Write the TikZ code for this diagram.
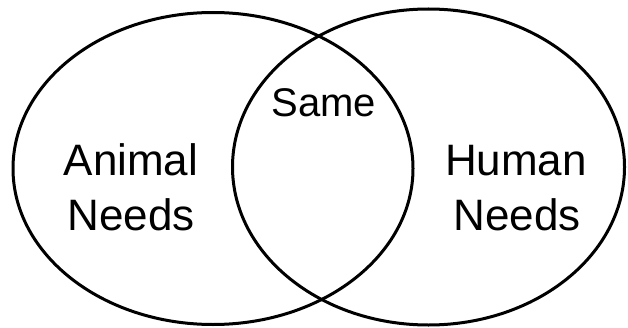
\documentclass[tikz,border=0pt]{standalone}
\usepackage{fontspec}
\setmainfont{Liberation Sans}
\usepackage{tikz}

\tikzset{
  ring/.style  = {draw = black, line width = 3pt},
  label/.style = {anchor = base, inner sep = 0pt,
                  font = \fontsize{44}{48}\selectfont}
}

\begin{document}
\begin{tikzpicture}[x=1pt, y=1pt]
  \useasboundingbox (0,0) rectangle (628,327);

  % the two sets
  \draw[ring] (213,158.5) ellipse [x radius = 200, y radius = 156];
  \draw[ring] (428.5,160) ellipse [x radius = 196, y radius = 158];

  % labels
  \node[label] (animal)  at (131,152) {Animal};
  \node[label] (needsA)  at (131,97)  {Needs};
  \node[label, font = \fontsize{40}{44}\selectfont] (same) at (324,210) {Same};
  \node[label] (human)   at (516,152) {Human};
  \node[label] (needsH)  at (517,97)  {Needs};
\end{tikzpicture}
\end{document}
